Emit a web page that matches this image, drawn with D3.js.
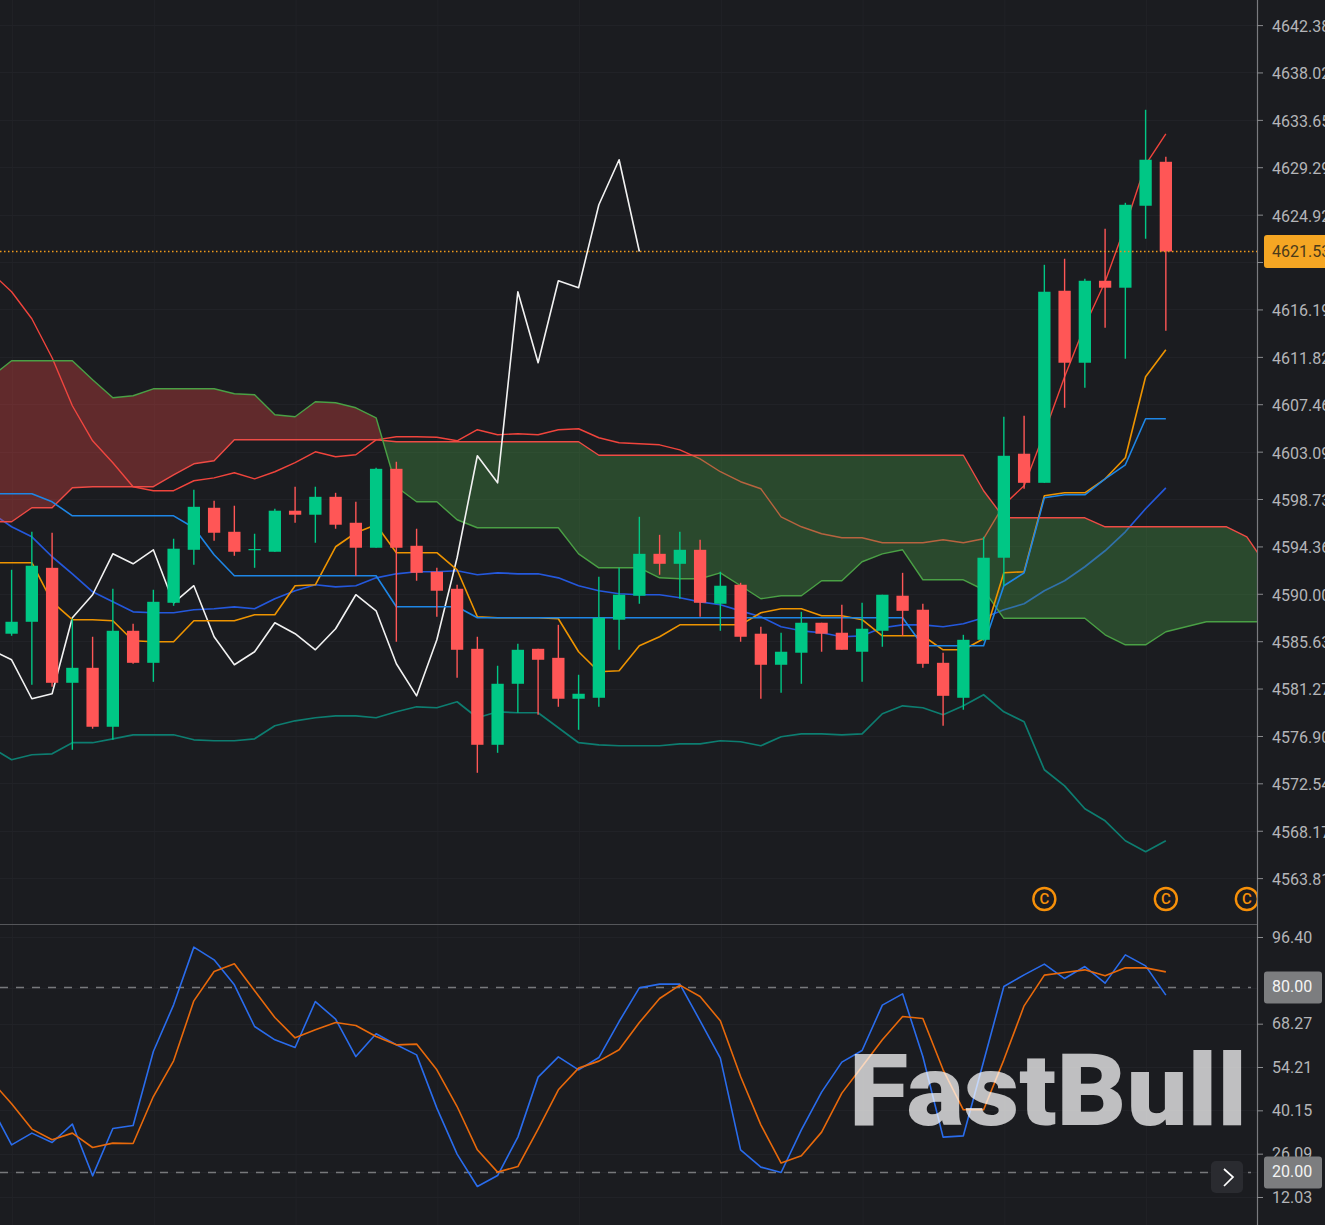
<!DOCTYPE html>
<html><head><meta charset="utf-8">
<script src="https://cdn.jsdelivr.net/npm/d3@7/dist/d3.min.js"></script>
<style>html,body{margin:0;padding:0;background:#1b1c20;overflow:hidden}svg{display:block}text{font-family:Roboto,sans-serif}</style>
</head><body><svg id="c" width="1325" height="1225"></svg>
<script>
const opens=[4586.32,4587.42,4592.39,4581.80,4583.18,4577.75,4586.59,4583.64,4589.17,4594.05,4597.92,4595.71,4594.08,4593.87,4597.65,4597.28,4598.93,4596.54,4594.24,4601.51,4594.42,4592.03,4590.46,4584.93,4576.09,4581.71,4584.93,4584.10,4580.33,4580.42,4587.61,4589.82,4593.68,4592.76,4594.05,4589.08,4590.83,4586.32,4583.46,4584.57,4587.33,4586.41,4584.66,4586.59,4589.82,4588.53,4583.64,4580.42,4585.76,4593.32,4602.90,4600.22,4617.91,4611.28,4618.83,4618.19,4625.74,4629.79];
const highs=[4592.21,4595.71,4595.62,4587.70,4586.04,4590.46,4587.24,4590.37,4595.07,4599.58,4598.57,4598.11,4595.53,4597.83,4599.86,4599.86,4599.30,4598.47,4601.61,4602.16,4595.99,4592.39,4590.83,4586.04,4583.37,4585.39,4584.93,4587.14,4582.54,4591.57,4592.39,4597.09,4595.43,4595.71,4594.97,4592.03,4591.01,4586.96,4586.41,4588.34,4587.33,4588.99,4589.17,4589.91,4591.93,4589.08,4584.57,4586.22,4595.25,4606.30,4606.40,4620.30,4620.86,4619.01,4623.62,4626.01,4634.58,4630.25];
const lows=[4586.13,4581.62,4581.43,4575.63,4577.57,4576.55,4583.55,4581.89,4588.89,4592.67,4594.88,4593.50,4592.39,4593.87,4596.54,4594.70,4595.99,4591.66,4594.24,4585.58,4591.20,4587.88,4582.26,4573.51,4575.35,4579.04,4578.85,4579.59,4577.47,4579.59,4584.84,4589.08,4591.75,4589.54,4587.88,4586.59,4585.58,4580.33,4580.88,4581.71,4584.66,4584.84,4581.89,4585.12,4586.13,4583.18,4577.84,4579.32,4585.67,4590.74,4599.67,4600.22,4607.13,4608.97,4614.50,4611.65,4622.70,4614.22];
const closes=[4587.42,4592.58,4581.80,4583.18,4577.75,4586.59,4583.64,4589.26,4594.15,4598.01,4595.62,4593.87,4594.12,4597.65,4597.28,4598.93,4596.36,4594.24,4601.51,4594.24,4591.93,4590.28,4584.84,4576.09,4581.71,4584.84,4583.92,4580.33,4580.79,4587.79,4589.91,4593.68,4592.76,4594.05,4589.17,4590.74,4586.04,4583.46,4584.66,4587.33,4586.32,4584.84,4586.78,4589.91,4588.43,4583.55,4580.60,4585.76,4593.32,4602.71,4600.22,4617.82,4611.28,4618.83,4618.19,4625.83,4629.98,4621.53];

// line series start one bar before the first visible candle
const bollUpper=[4619.57,4617.82,4615.33,4611.74,4607.32,4604.09,4602.07,4599.86,4599.49,4599.49,4600.41,4600.68,4601.15,4600.59,4601.24,4602.07,4603.08,4602.62,4602.80,4604.18,4604.46,4604.46,4604.42,4604.09,4605.11,4604.65,4604.74,4604.65,4605.11,4605.20,4604.37,4603.91,4603.82,4603.72,4603.26,4602.43,4601.24,4600.32,4599.67,4597.09,4596.17,4595.53,4595.16,4595.16,4594.70,4594.70,4594.70,4594.97,4594.70,4595.07,4598.20,4599.95,4604.83,4609.99,4614.69,4618.74,4623.90,4629.52,4632.37];
const bollMid=[4597.46,4596.17,4595.25,4593.41,4591.84,4590.18,4589.26,4588.34,4588.25,4588.25,4588.53,4588.62,4588.80,4588.62,4589.54,4590.28,4590.83,4590.64,4590.74,4591.47,4591.84,4592.03,4592.03,4592.12,4591.75,4591.93,4591.84,4591.84,4591.47,4590.74,4590.28,4590.00,4589.91,4589.91,4589.63,4589.26,4588.99,4588.43,4587.88,4586.96,4586.59,4586.41,4586.04,4586.13,4586.87,4587.14,4587.14,4586.96,4587.24,4587.79,4588.53,4589.08,4590.28,4591.20,4592.49,4593.96,4595.71,4597.83,4599.76];
const bollLower=[4575.82,4574.71,4575.17,4575.26,4576.28,4576.28,4576.64,4577.01,4577.01,4577.01,4576.55,4576.46,4576.46,4576.64,4577.84,4578.30,4578.58,4578.76,4578.76,4578.58,4579.13,4579.59,4579.50,4580.05,4578.58,4579.13,4579.04,4579.04,4577.66,4576.28,4576.09,4576.00,4576.00,4576.00,4576.18,4576.18,4576.46,4576.37,4576.00,4576.83,4577.10,4577.10,4577.01,4577.10,4578.95,4579.68,4579.50,4578.85,4579.68,4580.70,4579.13,4578.21,4573.79,4572.31,4570.20,4569.09,4567.25,4566.24,4567.25];
const tenkan=[4592.86,4592.86,4592.86,4589.26,4587.61,4587.61,4587.51,4585.67,4585.58,4585.58,4587.51,4587.51,4587.51,4588.07,4588.07,4590.74,4590.83,4594.33,4595.62,4596.36,4593.78,4593.78,4593.78,4592.21,4587.88,4587.79,4587.79,4587.79,4587.70,4584.66,4582.82,4582.91,4585.21,4586.04,4587.14,4587.14,4587.14,4587.14,4588.25,4588.62,4588.62,4587.97,4587.97,4587.61,4586.13,4586.13,4586.13,4584.84,4584.84,4585.86,4591.93,4592.03,4599.03,4599.30,4599.30,4600.59,4602.53,4609.99,4612.47];
const kijun=[4599.21,4599.21,4599.21,4598.47,4597.18,4597.18,4597.18,4597.18,4597.18,4597.18,4596.08,4593.59,4591.66,4591.66,4591.66,4591.66,4591.66,4591.66,4591.66,4591.66,4588.80,4588.80,4588.80,4588.80,4587.79,4587.79,4587.79,4587.79,4587.79,4587.79,4587.79,4587.79,4587.79,4587.79,4587.79,4587.79,4587.79,4587.79,4587.79,4587.79,4587.79,4587.79,4587.79,4587.79,4587.79,4587.79,4585.21,4585.21,4585.21,4585.21,4590.74,4591.93,4598.84,4599.12,4599.12,4600.59,4601.88,4606.12,4606.12];
const laggingSpan=[4584.84,4583.92,4580.33,4580.79,4587.79,4589.91,4593.68,4592.76,4594.05,4589.17,4590.74,4586.04,4583.46,4584.66,4587.33,4586.32,4584.84,4586.78,4589.91,4588.43,4583.55,4580.60,4585.76,4593.32,4602.71,4600.22,4617.82,4611.28,4618.83,4618.19,4625.83,4629.98,4621.53];
const senkouA=[4596.63,4596.63,4597.92,4597.92,4599.76,4599.86,4599.86,4599.86,4599.86,4600.96,4601.97,4602.25,4604.18,4604.18,4604.18,4604.18,4604.18,4604.18,4604.18,4604.18,4604.00,4604.00,4604.00,4604.00,4604.00,4604.00,4604.00,4604.00,4604.00,4604.00,4602.76,4602.76,4602.76,4602.76,4602.76,4602.76,4602.76,4602.76,4602.76,4602.76,4602.76,4602.76,4602.76,4602.76,4602.76,4602.76,4602.76,4602.76,4602.76,4599.49,4597.00,4597.00,4597.00,4597.00,4597.00,4596.17,4596.17,4596.17,4596.17,4596.17,4596.17,4596.17,4595.25,4592.49];
const senkouB=[4609.99,4611.46,4611.46,4611.46,4611.46,4609.71,4608.05,4608.24,4608.88,4608.88,4608.88,4608.88,4608.42,4608.33,4606.49,4606.30,4607.69,4607.59,4607.13,4606.21,4599.86,4598.47,4598.47,4596.82,4596.08,4596.08,4596.08,4596.08,4596.08,4593.68,4592.39,4592.39,4592.39,4591.47,4591.38,4591.38,4591.93,4590.74,4589.54,4589.82,4589.82,4591.20,4591.20,4592.95,4593.68,4594.05,4591.29,4591.29,4591.29,4590.37,4587.74,4587.74,4587.74,4587.74,4587.74,4586.22,4585.30,4585.30,4586.50,4586.96,4587.42,4587.42,4587.42,4587.42];
const stochK=[41.29,28.96,32.76,29.71,35.68,18.90,34.25,35.22,59.23,74.39,93.11,88.99,80.88,67.35,63.03,60.53,75.46,69.75,57.61,64.98,61.41,58.16,40.87,25.95,15.43,19.00,31.46,50.93,57.52,53.30,57.29,68.97,79.90,81.10,81.10,69.20,57.09,27.34,21.73,19.97,33.83,46.06,55.80,59.56,74.29,77.96,57.61,31.46,31.88,55.99,80.32,84.12,87.59,82.92,86.81,81.43,90.61,87.04,77.53];
const stochD=[49.73,42.27,34.06,30.59,32.76,28.09,29.51,29.38,44.63,56.22,75.68,85.19,87.69,78.93,70.27,63.68,66.28,68.64,67.67,64.10,61.41,61.64,53.30,41.39,27.34,20.10,21.92,34.06,46.81,53.85,56.12,59.79,68.64,76.43,80.78,77.08,69.20,51.12,35.45,23.03,25.39,33.08,45.74,54.37,63.03,70.59,69.94,53.30,40.32,40.32,56.54,74.06,84.02,84.87,85.74,83.80,86.39,86.39,85.09];

const priceTicks=[4642.38,4638.02,4633.65,4629.29,4624.92,4620.56,4616.19,4611.82,4607.46,4603.09,4598.73,4594.36,4590.00,4585.63,4581.27,4576.90,4572.54,4568.17,4563.81];
const hiddenPriceTick=4620.56;
const stochTicks=[96.40,68.27,54.21,40.15,26.09,12.03];
const stochLevels=[80,20];
const lastPrice=4621.53;
const dividendBars=[51,57,61];
const gridBars=[1,8,15,22,29,36,43,50,57];

const BG='#1b1c20',UP='#00c785',DOWN='#ff5656',GRID='#212227';
const axisX=1257,paneBottom=924;
const svg=d3.select('#c');
svg.append('rect').attr('width',1325).attr('height',1225).attr('fill',BG);
const defs=svg.append('defs');
defs.append('clipPath').attr('id','paneMain').append('rect').attr('width',axisX).attr('height',paneBottom);
defs.append('clipPath').attr('id','paneSub').append('rect').attr('y',paneBottom).attr('width',axisX).attr('height',1225-paneBottom);

const x=d3.scaleLinear().domain([0,57]).range([11.6,1165.85]);
const y=d3.scaleLinear().domain([4563.81,4642.38]).range([878.1,25.1]);
const ys=d3.scaleLinear().domain([12.03,96.40]).range([1197,937]);
const lx=(d,i)=>x(i-1);
const path=(sel,data,color,w,yy)=>sel.append('path').attr('d',d3.line().x(lx).y(d=>yy(d))(data)).attr('fill','none').attr('stroke',color).attr('stroke-width',w).attr('stroke-linejoin','round');

// grid
const grid=svg.append('g');
grid.selectAll('line.v').data(gridBars).join('line').attr('x1',d=>x(d-0.95)).attr('x2',d=>x(d-0.95)).attr('y1',0).attr('y2',1225).attr('stroke',GRID);
grid.selectAll('line.h').data(priceTicks).join('line').attr('x1',0).attr('x2',axisX).attr('y1',d=>Math.round(y(d))+.5).attr('y2',d=>Math.round(y(d))+.5).attr('stroke',GRID);
grid.selectAll('line.s').data(stochTicks.concat(stochLevels)).join('line').attr('x1',0).attr('x2',axisX).attr('y1',d=>Math.round(ys(d))+.5).attr('y2',d=>Math.round(ys(d))+.5).attr('stroke',GRID);

const main=svg.append('g').attr('clip-path','url(#paneMain)');
path(main,bollUpper,'#f0443c',1.4,y);
path(main,bollMid,'#2458dc',1.7,y);
path(main,bollLower,'#0d7d70',1.7,y);

// cloud
const h=paneBottom;
const belowA=d3.area().x(lx).y0(h).y1(d=>y(d))(senkouA), belowB=d3.area().x(lx).y0(h).y1(d=>y(d))(senkouB);
const aboveA=d3.area().x(lx).y0(0).y1(d=>y(d))(senkouA), aboveB=d3.area().x(lx).y0(0).y1(d=>y(d))(senkouB);
defs.append('clipPath').attr('id','aboveA').append('path').attr('d',aboveA);
defs.append('clipPath').attr('id','aboveB').append('path').attr('d',aboveB);
main.append('g').attr('clip-path','url(#aboveA)').append('path').attr('d',belowB).attr('fill','#f04a45').attr('fill-opacity',.33);
main.append('g').attr('clip-path','url(#aboveB)').append('path').attr('d',belowA).attr('fill','#4aa045').attr('fill-opacity',.34);
path(main,senkouA,'#ef4b45',1.4,y);
path(main,senkouB,'#4aa045',1.4,y);
path(main,laggingSpan,'#f2f2f2',1.6,y);
path(main,tenkan,'#ee9400',1.6,y);
path(main,kijun,'#1e86e6',1.6,y);

// candles
const idx=d3.range(opens.length);
const candleColor=i=>closes[i]>=opens[i]?UP:DOWN;
main.selectAll('line.w').data(idx).join('line').attr('x1',x).attr('x2',x).attr('y1',i=>y(highs[i])).attr('y2',i=>y(lows[i])).attr('stroke',candleColor).attr('stroke-width',1.4);
main.selectAll('rect.b').data(idx).join('rect').attr('x',i=>x(i)-6.15).attr('width',12.3).attr('y',i=>Math.min(y(opens[i]),y(closes[i]))).attr('height',i=>Math.max(1.2,Math.abs(y(opens[i])-y(closes[i])))).attr('fill',candleColor);

// last price dotted line
svg.append('line').attr('x1',0).attr('x2',axisX).attr('y1',y(lastPrice)).attr('y2',y(lastPrice)).attr('stroke','#f09a1c').attr('stroke-width',1.5).attr('stroke-dasharray','1.5 2.5');

// dividend markers
const mk=main.selectAll('g.m').data(dividendBars).join('g').attr('transform',d=>`translate(${x(d)},899)`);
mk.append('circle').attr('r',11).attr('fill','none').attr('stroke','#f79009').attr('stroke-width',2.4);
mk.append('text').attr('text-anchor','middle').attr('dy','.36em').attr('font-size',15).attr('font-weight',500).attr('fill','#f79009').text('C');

// stochastic pane
const sub=svg.append('g').attr('clip-path','url(#paneSub)');
sub.selectAll('line.l').data(stochLevels).join('line').attr('x1',0).attr('x2',axisX-6).attr('y1',d=>ys(d)).attr('y2',d=>ys(d)).attr('stroke','#77787b').attr('stroke-width',1.6).attr('stroke-dasharray','8 8');
path(sub,stochK,'#2a6cec',1.6,ys);
path(sub,stochD,'#e8690b',1.6,ys);

// watermark
svg.append('text').attr('x',849).attr('y',1125).attr('font-size',100).attr('font-weight',900).attr('font-family','Lato, sans-serif').attr('textLength',398).attr('lengthAdjust','spacingAndGlyphs').attr('fill','#ffffff').attr('fill-opacity',.72).text('FastBull');

// pane separators and axes
svg.append('line').attr('x1',0).attr('x2',axisX).attr('y1',924.5).attr('y2',924.5).attr('stroke','#55565a');
svg.append('line').attr('x1',axisX+.5).attr('x2',axisX+.5).attr('y1',0).attr('y2',1225).attr('stroke','#7a7b7f').attr('stroke-width',1.2);
const styleAxis=(g,dy)=>{g.select('.domain').remove();g.selectAll('.tick line').attr('stroke','#8a8b8e');g.selectAll('.tick text').attr('x',15).attr('dy',dy).attr('fill','#b4b5b8').attr('font-size',16).attr('font-family','Roboto, sans-serif');};
svg.append('g').attr('transform',`translate(${axisX},0)`).call(d3.axisRight(y).tickValues(priceTicks).tickSize(6).tickFormat(d=>d===hiddenPriceTick?'':d.toFixed(2))).call(styleAxis,'.4em');
svg.append('g').attr('transform',`translate(${axisX},0)`).call(d3.axisRight(ys).tickValues(stochTicks).tickSize(6).tickFormat(d=>d.toFixed(2))).call(styleAxis,'.32em');

// badges
svg.append('rect').attr('x',1264).attr('y',235).attr('width',70).attr('height',33).attr('rx',3).attr('fill','#f5a623');
svg.append('text').attr('x',1272).attr('y',y(lastPrice)).attr('dy','.35em').attr('font-size',16).attr('fill','#4a3a1a').text(lastPrice.toFixed(2));
const lv=svg.selectAll('g.lv').data(stochLevels).join('g');
lv.append('rect').attr('x',1264).attr('y',d=>ys(d)-16).attr('width',58).attr('height',32).attr('rx',3).attr('fill','#7c7d7f');
lv.append('text').attr('x',1272).attr('y',d=>ys(d)-1.2).attr('dy','.35em').attr('font-size',16).attr('fill','#f4f4f4').text(d=>d.toFixed(2));

// scroll button
svg.append('rect').attr('x',1211).attr('y',1161).attr('width',32).attr('height',32).attr('rx',5).attr('fill','#2a2b30');
svg.append('path').attr('d','M1224 1169 L1233 1177 L1224 1186').attr('fill','none').attr('stroke','#fff').attr('stroke-width',1.7);
</script></body></html>
